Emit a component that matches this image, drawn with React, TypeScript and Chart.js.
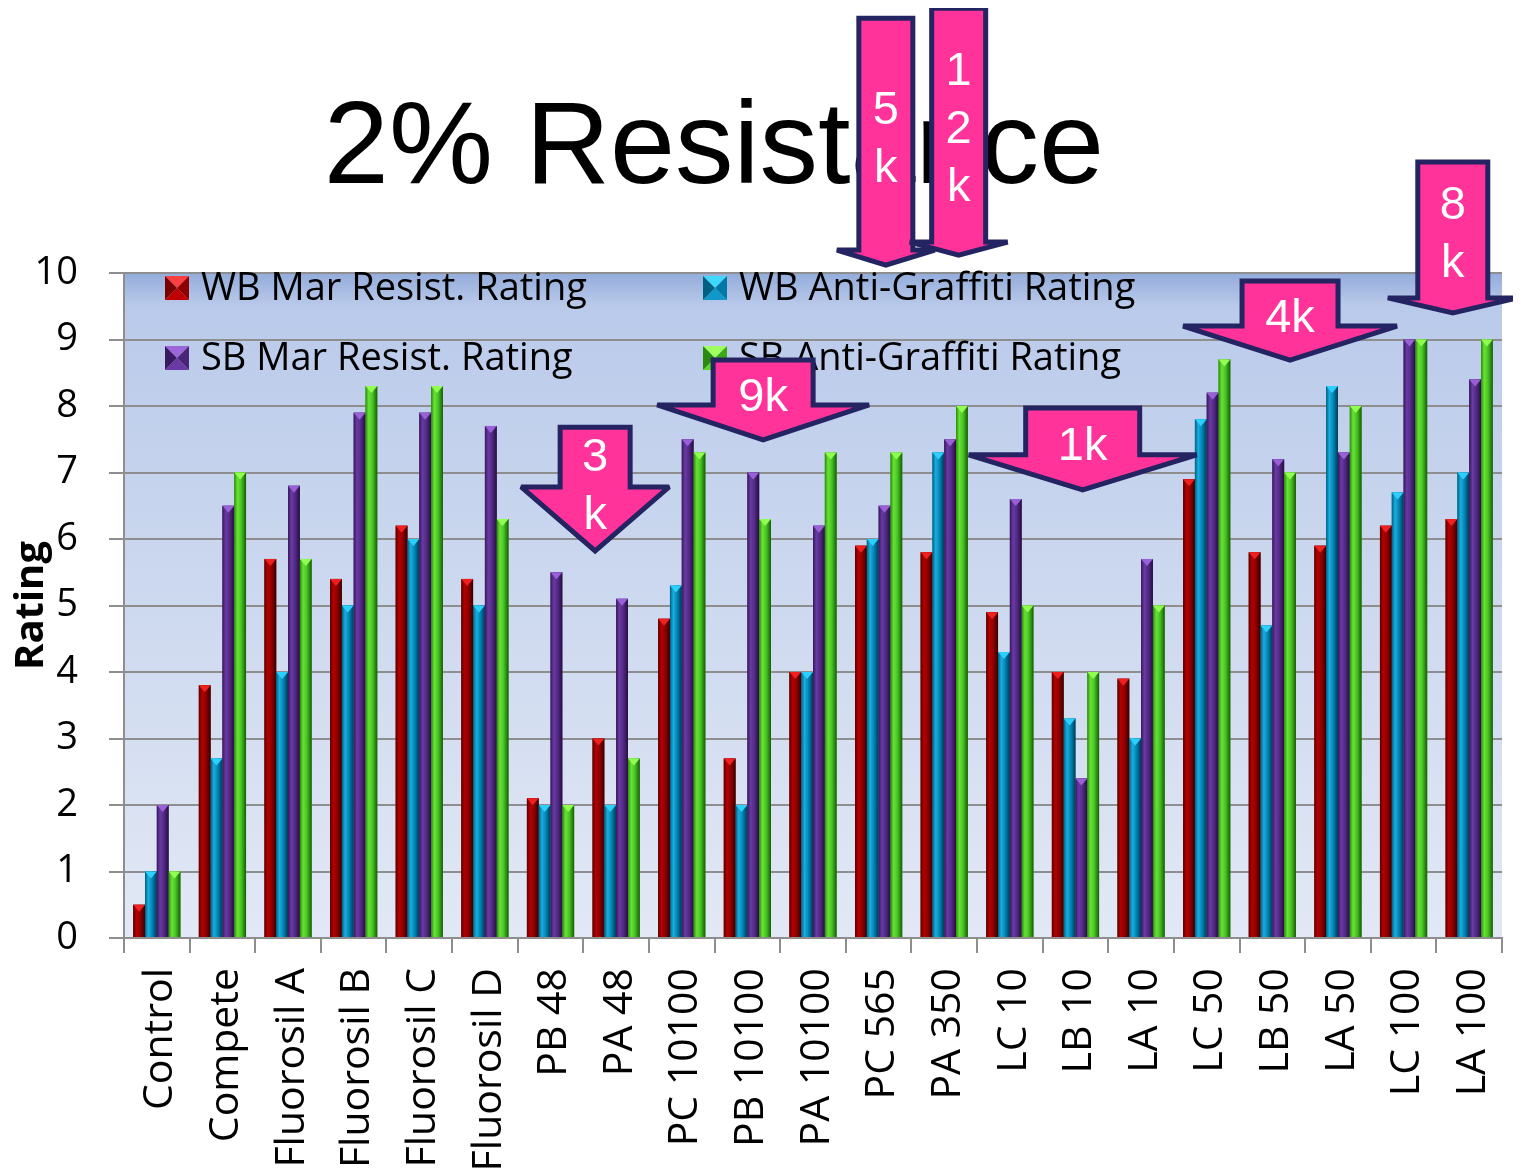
import React, { useEffect, useRef } from "react";
import { Chart, registerables } from "chart.js";

Chart.register(...registerables);

// ---------- data ----------
const categories = [
  "Control", "Compete", "Fluorosil A", "Fluorosil B", "Fluorosil C", "Fluorosil D",
  "PB 48", "PA 48", "PC 10100", "PB 10100", "PA 10100", "PC 565", "PA 350",
  "LC 10", "LB 10", "LA 10", "LC 50", "LB 50", "LA 50", "LC 100", "LA 100",
];
const wbMarResist = [0.5, 3.8, 5.7, 5.4, 6.2, 5.4, 2.1, 3.0, 4.8, 2.7, 4.0, 5.9, 5.8, 4.9, 4.0, 3.9, 6.9, 5.8, 5.9, 6.2, 6.3];
const wbAntiGraffiti = [1.0, 2.7, 4.0, 5.0, 6.0, 5.0, 2.0, 2.0, 5.3, 2.0, 4.0, 6.0, 7.3, 4.3, 3.3, 3.0, 7.8, 4.7, 8.3, 6.7, 7.0];
const sbMarResist = [2.0, 6.5, 6.8, 7.9, 7.9, 7.7, 5.5, 5.1, 7.5, 7.0, 6.2, 6.5, 7.5, 6.6, 2.4, 5.7, 8.2, 7.2, 7.3, 9.0, 8.4];
const sbAntiGraffiti = [1.0, 7.0, 5.7, 8.3, 8.3, 6.3, 2.0, 2.7, 7.3, 6.3, 7.3, 7.3, 8.0, 5.0, 4.0, 5.0, 8.7, 7.0, 8.0, 9.0, 9.0];
const seriesNames = ["WB Mar Resist. Rating", "WB Anti-Graffiti Rating", "SB Mar Resist. Rating", "SB Anti-Graffiti Rating"];
const ratingTicks = [0, 1, 2, 3, 4, 5, 6, 7, 8, 9, 10];
const titleText = "2% Resistance";
const yTitle = "Rating";

// call-out arrows: text lines, category position, rating at arrow top and at tip
const arrowLines = [["3", "k"], ["9k"], ["1k"], ["4k"], ["8", "k"], ["5", "k"], ["1", "2", "k"]];
const arrowCategoryPos = [6.68, 9.24, 14.11, 17.27, 19.75, 11.11, 12.22];
const arrowTopRating = [7.68, 8.69, 7.97, 9.88, 11.67, 13.83, 13.98];
const arrowTipRating = [5.82, 7.49, 6.74, 8.69, 9.4, 10.12, 10.27];

// ---------- styles ----------
const arrowShape = [
  { shaft: 35, head: 74, headDepth: 64 },
  { shaft: 50, head: 106, headDepth: 35 },
  { shaft: 57, head: 114, headDepth: 35 },
  { shaft: 48, head: 107, headDepth: 34 },
  { shaft: 35, head: 65, headDepth: 15 },
  { shaft: 27, head: 49, headDepth: 15 },
  { shaft: 27, head: 49, headDepth: 13 },
];

const barStyles = [
  { base: "#8a0000", stops: ["#5a0000", "#b40000", "#900000", "#360000"], cap: "#f02020", bevel: ["#ff4040", "#c00000", "#7a0000", "#900000"] },
  { base: "#0088b8", stops: ["#005f80", "#1aaee0", "#0086b6", "#003a55"], cap: "#2cd0ff", bevel: ["#40d8ff", "#1098c8", "#006080", "#0078a8"] },
  { base: "#502880", stops: ["#36185a", "#6a3aa4", "#522a86", "#260e40"], cap: "#9a60d8", bevel: ["#9a66d8", "#6a3aa4", "#3a1a60", "#4a2478"] },
  { base: "#40c020", stops: ["#2a8a10", "#6ae234", "#44c422", "#1a5a08"], cap: "#90ff50", bevel: ["#a0ff60", "#5ad82a", "#2a8a10", "#3aa818"] },
];

const PINK = "#ff3399";
const NAVY = "#242463";

function drawBevelSquare(ctx: CanvasRenderingContext2D, x: number, y: number, s: number, c: string[]) {
  const cx = x + s / 2, cy = y + s / 2;
  const tri = (pts: number[][], col: string) => {
    ctx.beginPath();
    ctx.moveTo(pts[0][0], pts[0][1]);
    for (let i = 1; i < pts.length; i++) ctx.lineTo(pts[i][0], pts[i][1]);
    ctx.closePath();
    ctx.fillStyle = col;
    ctx.fill();
  };
  tri([[x, y], [x + s, y], [cx, cy]], c[0]);
  tri([[x, y + s], [x + s, y + s], [cx, cy]], c[1]);
  tri([[x, y], [x, y + s], [cx, cy]], c[2]);
  tri([[x + s, y], [x + s, y + s], [cx, cy]], c[3]);
}

const decorPlugin = {
  id: "decor",
  beforeDraw(chart: any) {
    const { ctx, chartArea: a } = chart;
    ctx.save();
    ctx.fillStyle = "#ffffff";
    ctx.fillRect(0, 0, chart.width, chart.height);
    const g = ctx.createLinearGradient(0, a.top, 0, a.bottom);
    g.addColorStop(0, "#93acdb");
    g.addColorStop(0.05, "#bacaea");
    g.addColorStop(0.4, "#c9d6ee");
    g.addColorStop(1, "#e2e8f5");
    ctx.fillStyle = g;
    ctx.fillRect(a.left, a.top, a.right - a.left, a.bottom - a.top);
    ctx.restore();
  },
  afterDatasetsDraw(chart: any) {
    const { ctx } = chart;
    ctx.save();
    chart.data.datasets.forEach((_ds: any, di: number) => {
      const meta = chart.getDatasetMeta(di);
      const st = barStyles[di];
      meta.data.forEach((el: any) => {
        const { x, y, base, width } = el.getProps(["x", "y", "base", "width"], true);
        const l = x - width / 2, r = x + width / 2;
        const g = ctx.createLinearGradient(l, 0, r, 0);
        g.addColorStop(0, st.stops[0]);
        g.addColorStop(0.28, st.stops[1]);
        g.addColorStop(0.6, st.stops[2]);
        g.addColorStop(1, st.stops[3]);
        ctx.fillStyle = g;
        ctx.fillRect(l, y, width, base - y);
        const capH = Math.min(7, base - y);
        ctx.beginPath();
        ctx.moveTo(l, y);
        ctx.lineTo(r, y);
        ctx.lineTo(x, y + capH);
        ctx.closePath();
        ctx.fillStyle = st.cap;
        ctx.fill();
      });
    });
    ctx.restore();
  },
  afterDraw(chart: any) {
    const { ctx, chartArea: a } = chart;
    const xs = chart.scales.x, ys = chart.scales.y;
    ctx.save();
    // title
    ctx.fillStyle = "#000";
    ctx.font = '117px "Liberation Sans", Arial, sans-serif';
    ctx.textAlign = "center";
    ctx.textBaseline = "alphabetic";
    ctx.fillText(titleText, 706, 175);

    // legend inside plot area
    ctx.font = '38px "Open Sans", sans-serif';
    ctx.textAlign = "left";
    ctx.textBaseline = "middle";
    seriesNames.forEach((name, i) => {
      const col = i % 2, row = Math.floor(i / 2);
      const mx = a.left + 41 + col * 538;
      const my = a.top + 15 + row * 70;
      drawBevelSquare(ctx, mx, my - 12, 24, barStyles[i].bevel);
      ctx.fillStyle = "#000";
      ctx.fillText(name, mx + 36, my + 1);
    });

    // call-out arrows
    arrowLines.forEach((lines, i) => {
      const sh = arrowShape[i];
      const cx = xs.getPixelForValue(arrowCategoryPos[i]);
      const top = ys.getPixelForValue(arrowTopRating[i]);
      const tip = ys.getPixelForValue(arrowTipRating[i]);
      const hb = tip - sh.headDepth;
      ctx.beginPath();
      ctx.moveTo(cx - sh.shaft, top);
      ctx.lineTo(cx + sh.shaft, top);
      ctx.lineTo(cx + sh.shaft, hb);
      ctx.lineTo(cx + sh.head, hb);
      ctx.lineTo(cx, tip);
      ctx.lineTo(cx - sh.head, hb);
      ctx.lineTo(cx - sh.shaft, hb);
      ctx.closePath();
      ctx.fillStyle = PINK;
      ctx.fill();
      ctx.lineWidth = 5;
      ctx.lineJoin = "miter";
      ctx.miterLimit = 2;
      ctx.strokeStyle = NAVY;
      ctx.stroke();
      ctx.fillStyle = "#ffffff";
      ctx.font = '47px "Liberation Sans", Arial, sans-serif';
      ctx.textAlign = "center";
      ctx.textBaseline = "middle";
      const mid = (top + tip) / 2 - 2;
      const lh = 58;
      lines.forEach((t, k) => {
        ctx.fillText(t, cx, mid + (k - (lines.length - 1) / 2) * lh);
      });
    });
    ctx.restore();
  },
};

export default function App() {
  const ref = useRef<HTMLCanvasElement | null>(null);
  useEffect(() => {
    if (!ref.current) return;
    const seriesData = [wbMarResist, wbAntiGraffiti, sbMarResist, sbAntiGraffiti];
    const chart = new Chart(ref.current, {
      type: "bar",
      data: {
        labels: categories,
        datasets: seriesData.map((d, i) => ({
          label: seriesNames[i],
          data: d,
          backgroundColor: barStyles[i].base,
          borderWidth: 0,
          categoryPercentage: 0.72,
          barPercentage: 1.0,
        })),
      },
      options: {
        animation: false,
        responsive: false,
        layout: { padding: { top: 265, right: 11, left: 0, bottom: 0 } },
        plugins: { legend: { display: false }, title: { display: false }, tooltip: { enabled: false } },
        scales: {
          x: {
            ticks: {
              color: "#000",
              font: { family: "Open Sans", size: 41 },
              minRotation: 90,
              maxRotation: 90,
              autoSkip: false,
              padding: 15,
              labelOffset: 4,
            },
            grid: { drawOnChartArea: false, color: "#8e8e8e", lineWidth: 2, tickLength: 15, offset: true },
            border: { color: "#8e8e8e", width: 2 },
            afterFit: (s: any) => { s.height = 230; s.paddingLeft = 0; s.paddingRight = 0; },
          },
          y: {
            min: 0,
            max: 10,
            afterBuildTicks: (s: any) => { s.ticks = ratingTicks.map((v) => ({ value: v })); },
            ticks: { color: "#000", font: { family: "Open Sans", size: 38 }, padding: 31 },
            grid: { color: "#8e8e8e", lineWidth: 2, tickLength: 15 },
            border: { color: "#8e8e8e", width: 2 },
            title: { display: true, text: yTitle, color: "#000", font: { family: "Open Sans", size: 40, weight: "bold" }, padding: 0 },
            afterFit: (s: any) => { s.width = 116; s.paddingTop = 0; s.paddingBottom = 0; },
          },
        },
      },
      plugins: [decorPlugin],
    } as any);
    let alive = true;
    if ((document as any).fonts) {
      Promise.all([
        (document as any).fonts.load('38px "Open Sans"'),
        (document as any).fonts.load('bold 40px "Open Sans"'),
        (document as any).fonts.load('47px "Liberation Sans"'),
      ]).then(() => { if (alive) chart.update(); }).catch(() => {});
    }
    return () => { alive = false; chart.destroy(); };
  }, []);
  return (
    <div style={{ width: 1505, height: 1160 }}>
      <canvas ref={ref} width={1505} height={1160} style={{ display: "block" }} />
    </div>
  );
}
